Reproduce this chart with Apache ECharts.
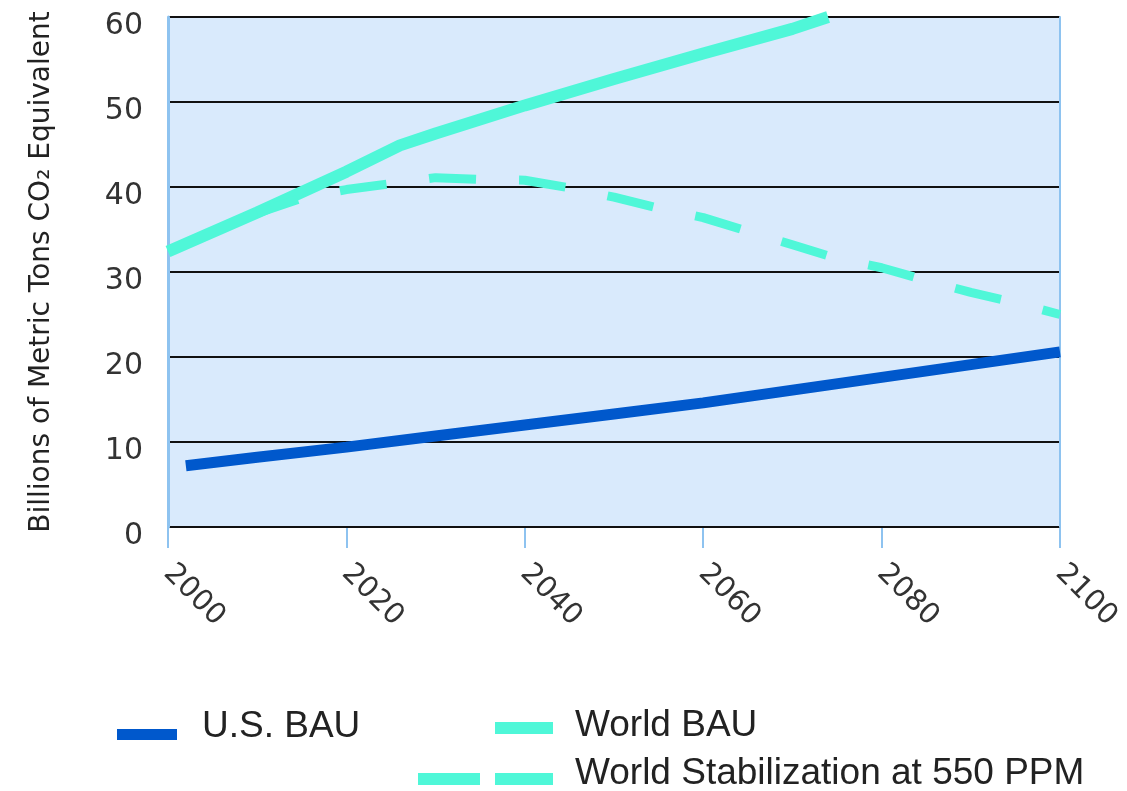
<!DOCTYPE html>
<html><head><meta charset="utf-8">
<script src="https://cdn.jsdelivr.net/npm/echarts@6/dist/echarts.min.js"></script>
<style>html,body{margin:0;padding:0;background:#fff}#c{width:1127px;height:791px}</style>
</head><body><div id="c"></div>
<script>
// ---- data ----
const usYears = [2002, 2010, 2020, 2030, 2040, 2050, 2060, 2070, 2080, 2090, 2100];
const usBau = [7.2, 8.2, 9.4, 10.7, 12.0, 13.3, 14.6, 16.1, 17.6, 19.1, 20.6];

const worldYears = [2000, 2010, 2020, 2026, 2030, 2040, 2050, 2060, 2070, 2074];
const worldBau = [32.4, 37.0, 41.8, 44.9, 46.3, 49.6, 52.7, 55.7, 58.6, 60.0];

const stabYears = [2010, 2015, 2020, 2025, 2030, 2035, 2040, 2045, 2050, 2055, 2060, 2065, 2070, 2075, 2080, 2085, 2090, 2095, 2100];
const worldStab = [36.9, 38.7, 39.7, 40.4, 41.1, 40.9, 40.8, 39.9, 38.8, 37.5, 36.4, 34.8, 33.2, 31.6, 30.5, 29.0, 27.6, 26.4, 25.0];

const seriesNames = ['U.S. BAU', 'World BAU', 'World Stabilization at 550 PPM'];
const yAxisTitle = 'Billions of Metric Tons CO\u2082 Equivalent';

const pairs = (xs, ys) => xs.map((x, i) => [x, ys[i]]);

const C_US = '#0058cc';
const C_WORLD = '#4ff7d8';
const C_AXIS = '#8ec3f0';

const legendText = (padLeft) => ({
  fontFamily: 'Liberation Sans', fontSize: 37, color: '#222',
  padding: [0, 0, 0, padLeft]
});
// legend swatches: a tiny invisible anchor point at the top so the bar sits below the text centre
const DOT = 'M0,0H0.01V0.01H0Z ';

const chart = echarts.init(document.getElementById('c'), null, {renderer: 'canvas'});
chart.setOption({
  animation: false,
  backgroundColor: '#ffffff',
  grid: {left: 168, right: 67, top: 17, bottom: 264, show: true, backgroundColor: '#d9eafc', borderWidth: 0},
  xAxis: {
    type: 'value', min: 2000, max: 2100, interval: 20,
    axisLine: {show: true, lineStyle: {color: '#111', width: 2}},
    axisTick: {show: true, length: 21, lineStyle: {color: C_AXIS, width: 2}},
    axisLabel: {rotate: -45, margin: 42, fontFamily: 'DejaVu Sans', fontSize: 29, color: '#333',
      formatter: v => String(v)},
    splitLine: {show: false}
  },
  yAxis: [{
    type: 'value', min: 0, max: 60, interval: 10, z: 3,
    axisLine: {show: true, lineStyle: {color: C_AXIS, width: 3}},
    axisTick: {show: false},
    axisLabel: {margin: 25, fontFamily: 'DejaVu Sans', fontSize: 30, color: '#333',
      verticalAlign: 'top', lineHeight: 18},
    splitLine: {show: true, lineStyle: {color: '#111', width: 2}},
    name: yAxisTitle, nameLocation: 'middle', nameGap: 112,
    nameTextStyle: {fontFamily: 'DejaVu Sans', fontSize: 28, color: '#222'}
  }, {
    type: 'value', position: 'right', min: 0, max: 60, interval: 10, z: 3,
    axisLine: {show: true, lineStyle: {color: C_AXIS, width: 2}},
    axisTick: {show: false}, axisLabel: {show: false}, splitLine: {show: false}
  }],
  legend: [{
    data: [seriesNames[0]], left: 117, top: 708, padding: 0, selectedMode: false,
    itemWidth: 60, itemHeight: 27, icon: 'path://' + DOT + 'M0,16H60V27H0Z', itemStyle: {borderWidth: 0},
    textStyle: legendText(20)
  }, {
    data: [seriesNames[1]], left: 495, top: 707.5, padding: 0, selectedMode: false,
    itemWidth: 58, itemHeight: 16, icon: 'path://' + DOT + 'M0,4H58V16H0Z', itemStyle: {borderWidth: 0},
    textStyle: legendText(17)
  }, {
    data: [seriesNames[2]], left: 418, top: 755.5, padding: 0, selectedMode: false,
    itemWidth: 135, itemHeight: 22, icon: 'path://' + DOT + 'M0,10H62V22H0Z M77,10H135V22H77Z', itemStyle: {borderWidth: 0},
    textStyle: legendText(17)
  }],
  series: [{
    name: seriesNames[0], type: 'line', data: pairs(usYears, usBau),
    symbol: 'none', showSymbol: false, color: C_US, itemStyle: {color: C_US},
    lineStyle: {width: 11, color: C_US}
  }, {
    name: seriesNames[1], type: 'line', data: pairs(worldYears, worldBau),
    symbol: 'none', showSymbol: false, color: C_WORLD, itemStyle: {color: C_WORLD},
    lineStyle: {width: 12, color: C_WORLD}
  }, {
    name: seriesNames[2], type: 'line', data: pairs(stabYears, worldStab),
    symbol: 'none', showSymbol: false, color: C_WORLD, itemStyle: {color: C_WORLD},
    lineStyle: {width: 9, color: C_WORLD, type: [47, 43], dashOffset: 4}
  }]
});
</script></body></html>
